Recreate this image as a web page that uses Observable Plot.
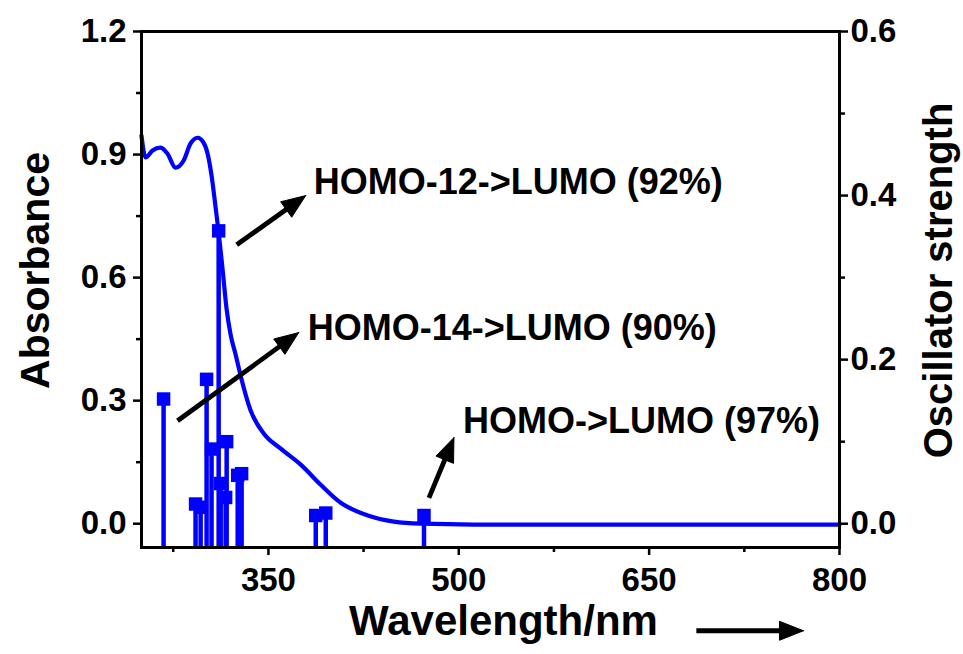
<!DOCTYPE html>
<html><head><meta charset="utf-8">
<script src="https://cdn.jsdelivr.net/npm/d3@7"></script>
<script src="https://cdn.jsdelivr.net/npm/@observablehq/plot@0.6"></script>
<style>body{margin:0;background:#fff}</style></head>
<body><div id="chart"></div>
<script>
// Absorbance spectrum (wavelength nm, absorbance)
const wavelength = [250, 253.2, 258.7, 265.0, 270.5, 276.8, 283.1, 288.7, 294.2, 298.9, 302.1, 305.2, 308.4, 310.8, 313.9, 317.1, 320.2, 324.2, 328.1, 336.0, 346.3, 359.7, 375.5, 391.2, 407.0, 428.3, 448.9, 470.2, 512, 800];
const absorbance = [0.946, 0.893, 0.910, 0.917, 0.902, 0.868, 0.885, 0.927, 0.941, 0.929, 0.902, 0.849, 0.771, 0.710, 0.620, 0.522, 0.461, 0.412, 0.361, 0.276, 0.220, 0.183, 0.144, 0.095, 0.051, 0.020, 0.005, 0.000, -0.002, -0.002];
// Oscillator strengths (sticks)
const stickWl = [267.4, 292.6, 296.6, 301.3, 305.2, 310.8, 312.4, 316.3, 317.1, 325.8, 328.9, 387.3, 395.2, 472.6];
const stickF  = [0.152, 0.024, 0.020, 0.176, 0.091, 0.357, 0.049, 0.032, 0.100, 0.059, 0.061, 0.010, 0.013, 0.010];
// Ticks
const xMajor = [350, 500, 650, 800];
const xMinor = [275, 425, 575, 725];
const leftMajor = [0, 0.3, 0.6, 0.9, 1.2];
const leftMinor = [0.15, 0.45, 0.75, 1.05];
const rightMajor = [0, 0.2, 0.4, 0.6];
const rightMinor = [0.1, 0.3, 0.5];
// Annotations
const labels = ["HOMO-12->LUMO (92%)", "HOMO-14->LUMO (90%)", "HOMO->LUMO (97%)"];
const labelX = [385.7, 381.0, 503.3];
const labelY = [0.832, 0.476, 0.249];
const arrowX1 = [325.0, 278.4, 476.5, 687.2];
const arrowY1 = [0.680, 0.251, 0.063, -0.261];
const arrowX2 = [379.4, 373.9, 496.2, 771.6];
const arrowY2 = [0.800, 0.466, 0.210, -0.261];

const W = 963, H = 654, mL = 141, mR = 124, mT = 31, mB = 107;
const xDomain = [250, 800], yDomain = [-0.058, 1.2];
const blue = "#0000ff";

const spectrum = wavelength.map((w, i) => ({w, a: absorbance[i]}));
const sticks = stickWl.map((w, i) => ({w, a: 2 * stickF[i]}));
const annots = labels.map((t, i) => ({t, x: labelX[i], y: labelY[i]}));

// arrowheads computed in pixel space with scales identical to Plot's
const xs = d3.scaleLinear(xDomain, [mL, W - mR]);
const ys = d3.scaleLinear(yDomain, [H - mB, mT]);
const shafts = [], heads = [];
arrowX1.forEach((_, i) => {
  const px1 = xs(arrowX1[i]), py1 = ys(arrowY1[i]), px2 = xs(arrowX2[i]), py2 = ys(arrowY2[i]);
  const len = Math.hypot(px2 - px1, py2 - py1);
  const ux = (px2 - px1) / len, uy = (py2 - py1) / len, nx = -uy, ny = ux;
  const L = 24, hw = 9.5;
  const bx = px2 - ux * L, by = py2 - uy * L;
  shafts.push({x1: arrowX1[i], y1: arrowY1[i], x2: xs.invert(bx + ux * 3), y2: ys.invert(by + uy * 3)});
  const pts = [[px2, py2], [bx + nx * hw, by + ny * hw], [bx - nx * hw, by - ny * hw], [px2, py2]];
  pts.forEach(([px, py]) => heads.push({id: i, x: xs.invert(px), y: ys.invert(py)}));
});

const chart = Plot.plot({
  width: W, height: H,
  marginLeft: mL, marginRight: mR, marginTop: mT, marginBottom: mB,
  x: {domain: xDomain, label: null},
  y: {domain: yDomain, label: null},
  style: {fontFamily: "'Liberation Sans', Arial, sans-serif", fontWeight: "bold", fontSize: "33px", background: "#fff", color: "#000"},
  marks: [
    Plot.ruleX(sticks, {x: "w", y1: yDomain[0], y2: "a", stroke: blue, strokeWidth: 4.5}),
    Plot.dot(sticks, {x: "w", y: "a", symbol: "square", r: 7.6, fill: blue, stroke: null}),
    Plot.line(spectrum, {x: "w", y: "a", stroke: blue, strokeWidth: 4.2, curve: "monotone-x"}),
    Plot.frame({stroke: "#000", strokeWidth: 3}),
    Plot.axisX({ticks: xMajor, tickSize: 8, tickPadding: 12, strokeWidth: 2.5, fontSize: 33, label: null}),
    Plot.axisX({ticks: xMinor, tickSize: 5, strokeWidth: 2.5, tickFormat: () => "", label: null}),
    Plot.axisY({anchor: "left", ticks: leftMajor, tickSize: 8, tickPadding: 7, strokeWidth: 2.5, fontSize: 33, tickFormat: d => d.toFixed(1), label: null}),
    Plot.axisY({anchor: "left", ticks: leftMinor, tickSize: 5, strokeWidth: 2.5, tickFormat: () => "", label: null}),
    Plot.axisY({anchor: "right", ticks: rightMajor.map(f => 2 * f), tickSize: 8, tickPadding: 3, strokeWidth: 2.5, fontSize: 33, tickFormat: d => (d / 2).toFixed(1), label: null}),
    Plot.axisY({anchor: "right", ticks: rightMinor.map(f => 2 * f), tickSize: 5, strokeWidth: 2.5, tickFormat: () => "", label: null}),
    Plot.link(shafts, {x1: "x1", y1: "y1", x2: "x2", y2: "y2", stroke: "#000", strokeWidth: 4.8, clip: false}),
    Plot.line(heads, {x: "x", y: "y", z: "id", fill: "#000", stroke: "#000", strokeWidth: 1, clip: false}),
    Plot.text(annots, {x: "x", y: "y", text: "t", textAnchor: "start", lineAnchor: "middle", fontSize: 36, fill: "#000"}),
    Plot.text(["Absorbance"], {frameAnchor: "left", textAnchor: "middle", lineAnchor: "middle", rotate: -90, dx: -106, dy: -19, fontSize: 41, fill: "#000"}),
    Plot.text(["Oscillator strength"], {frameAnchor: "right", textAnchor: "middle", lineAnchor: "middle", rotate: -90, dx: 100, dy: -9, fontSize: 40, fill: "#000"}),
    Plot.text(["Wavelength/nm"], {frameAnchor: "bottom", textAnchor: "middle", lineAnchor: "middle", dx: 13, dy: 74, fontSize: 42, fill: "#000"})
  ]
});
document.getElementById("chart").appendChild(chart);
</script></body></html>
